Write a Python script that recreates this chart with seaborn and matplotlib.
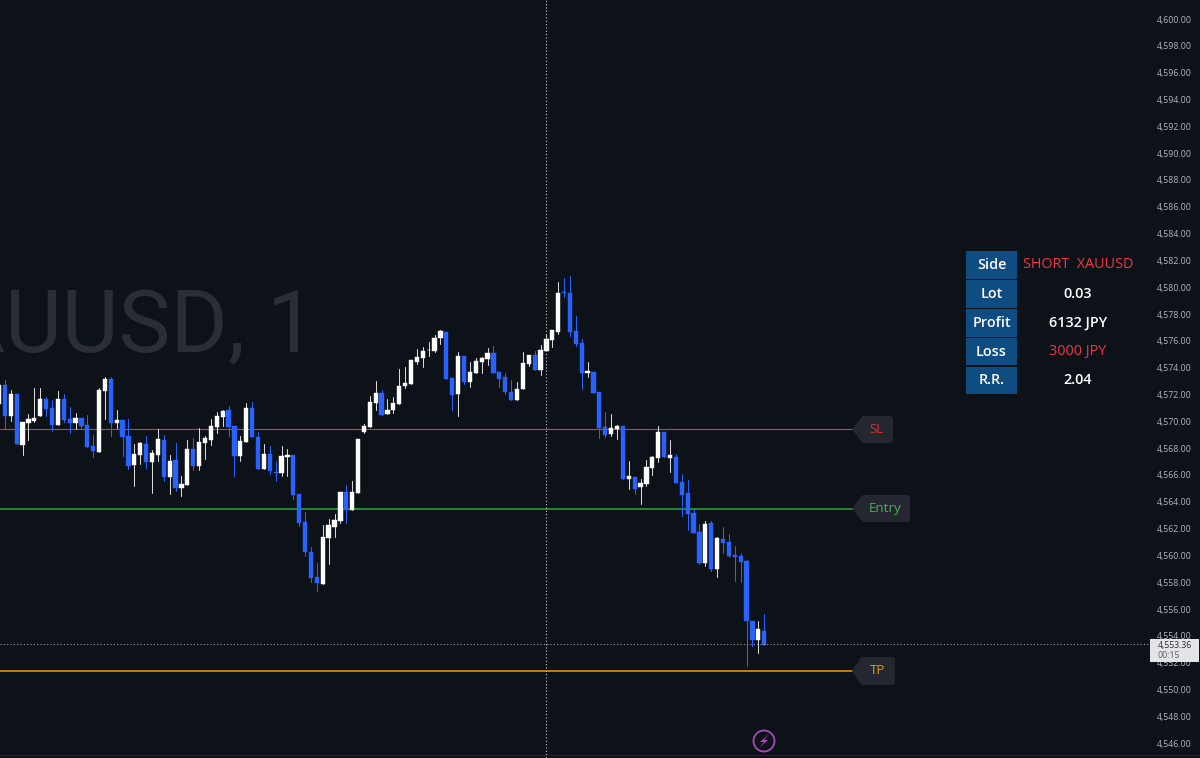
"""XAUUSD 1-minute chart with SL / Entry / TP levels and a trade panel."""

import pandas as pd
import matplotlib
matplotlib.use("Agg")
import matplotlib.pyplot as plt
import matplotlib.transforms as mtransforms
from matplotlib.patches import Circle, Polygon, Rectangle
import seaborn as sns

# ── Data ──────────────────────────────────────
OPEN = [
    4571.29, 4572.69, 4570.40, 4572.04, 4568.23, 4569.88, 4570.05, 4570.40, 4571.69, 4570.99,
    4569.72, 4571.69, 4570.20, 4569.85, 4570.25, 4569.72, 4568.18, 4567.71, 4572.26, 4573.13,
    4569.85, 4570.12, 4568.91, 4566.74, 4567.47, 4568.31, 4566.99, 4567.51, 4568.61, 4565.85,
    4567.10, 4565.05, 4565.25, 4567.93, 4566.67, 4568.39, 4568.63, 4569.60, 4570.32, 4570.84,
    4569.65, 4567.39, 4568.44, 4570.99, 4568.83, 4566.42, 4567.54, 4566.22, 4566.17, 4567.31,
    4567.47, 4564.60, 4562.47, 4560.25, 4558.37, 4557.89, 4561.30, 4562.12, 4562.57, 4564.73,
    4563.37, 4564.66, 4569.20, 4569.55, 4571.34, 4572.13, 4570.52, 4570.84, 4571.29, 4572.66,
    4572.78, 4574.42, 4574.74, 4575.30, 4575.24, 4576.21, 4576.66, 4573.21, 4572.02, 4574.87,
    4572.91, 4573.58, 4574.42, 4574.62, 4575.09, 4573.66, 4573.30, 4572.21, 4571.57, 4572.41,
    4574.27, 4574.94, 4573.83, 4575.24, 4576.06, 4576.66, 4579.64, 4579.57, 4576.71, 4575.84,
    4573.63, 4573.70, 4572.16, 4569.55, 4569.05, 4569.40, 4569.63, 4565.70, 4565.85, 4565.10,
    4565.32, 4566.54, 4567.26, 4569.20, 4567.26, 4567.34, 4565.47, 4564.66, 4563.16, 4561.75,
    4559.44, 4562.42, 4558.99, 4561.22, 4561.00, 4560.03, 4559.93, 4559.58, 4555.11, 4553.69,
    4554.36,
]
HIGH = [
    4573.01, 4573.08, 4572.34, 4572.04, 4569.95, 4570.55, 4572.49, 4572.49, 4571.84, 4571.59,
    4572.24, 4572.04, 4571.07, 4570.60, 4570.25, 4570.47, 4568.98, 4572.49, 4573.31, 4573.28,
    4570.84, 4570.12, 4570.17, 4568.31, 4568.46, 4568.91, 4567.86, 4569.43, 4568.98, 4567.49,
    4568.39, 4565.92, 4568.61, 4568.76, 4569.50, 4568.91, 4570.15, 4570.69, 4570.84, 4571.14,
    4569.65, 4568.91, 4571.37, 4571.44, 4569.20, 4568.31, 4568.16, 4567.04, 4568.18, 4567.93,
    4567.51, 4564.60, 4563.27, 4560.63, 4559.44, 4562.27, 4562.72, 4563.09, 4564.73, 4565.25,
    4565.57, 4568.68, 4569.80, 4571.89, 4573.01, 4572.34, 4571.64, 4571.84, 4573.90, 4574.05,
    4574.55, 4575.39, 4575.54, 4575.92, 4576.43, 4576.81, 4576.66, 4573.21, 4575.17, 4574.87,
    4574.42, 4574.72, 4574.79, 4575.47, 4575.62, 4573.66, 4573.58, 4573.08, 4572.93, 4575.17,
    4574.94, 4575.22, 4575.69, 4576.43, 4576.79, 4580.37, 4580.69, 4580.84, 4577.85, 4576.13,
    4574.42, 4573.70, 4572.16, 4570.69, 4570.55, 4569.72, 4569.63, 4567.04, 4565.85, 4565.70,
    4567.12, 4567.41, 4569.65, 4569.20, 4568.61, 4567.56, 4566.07, 4565.62, 4563.46, 4562.34,
    4562.57, 4562.57, 4561.37, 4562.12, 4561.60, 4560.70, 4560.18, 4559.66, 4555.11, 4555.11,
    4555.63,
]
LOW = [
    4571.29, 4569.40, 4570.05, 4568.31, 4567.51, 4568.61, 4569.93, 4570.40, 4570.40, 4569.28,
    4569.72, 4569.95, 4569.10, 4569.40, 4569.49, 4568.11, 4567.34, 4567.71, 4570.17, 4568.91,
    4569.50, 4567.43, 4566.44, 4565.18, 4566.82, 4566.52, 4564.66, 4567.07, 4565.57, 4564.58,
    4564.81, 4564.43, 4565.25, 4566.37, 4566.37, 4567.19, 4568.23, 4569.13, 4569.65, 4568.91,
    4565.92, 4567.04, 4568.44, 4568.81, 4566.44, 4566.42, 4566.09, 4565.55, 4565.92, 4565.92,
    4564.21, 4562.19, 4559.96, 4558.04, 4557.37, 4557.89, 4559.36, 4561.40, 4562.42, 4562.39,
    4563.37, 4564.66, 4569.10, 4569.55, 4570.84, 4570.45, 4570.52, 4570.60, 4571.29, 4572.49,
    4572.78, 4574.27, 4574.07, 4574.87, 4575.17, 4575.76, 4573.13, 4570.84, 4570.40, 4572.78,
    4572.58, 4573.58, 4573.63, 4574.20, 4573.58, 4572.58, 4572.04, 4571.57, 4571.57, 4572.41,
    4574.10, 4573.83, 4573.45, 4575.24, 4575.54, 4576.51, 4579.27, 4576.36, 4575.62, 4572.41,
    4573.30, 4572.09, 4568.76, 4568.85, 4568.91, 4568.68, 4565.70, 4564.97, 4564.58, 4563.83,
    4565.18, 4566.02, 4566.99, 4567.34, 4566.22, 4565.40, 4562.94, 4561.90, 4561.67, 4559.36,
    4559.21, 4558.84, 4558.39, 4560.18, 4559.86, 4558.09, 4558.02, 4551.76, 4553.25, 4552.71,
    4553.32,
]
CLOSE = [
    4572.71, 4570.40, 4572.04, 4568.31, 4569.95, 4570.15, 4570.27, 4571.69, 4570.92, 4569.72,
    4571.69, 4570.12, 4569.85, 4570.25, 4569.67, 4568.11, 4567.79, 4572.34, 4573.13, 4569.88,
    4570.12, 4568.83, 4566.67, 4567.54, 4568.39, 4566.99, 4567.66, 4568.66, 4565.85, 4567.02,
    4565.05, 4565.32, 4567.93, 4566.67, 4568.46, 4568.76, 4569.65, 4570.40, 4570.77, 4569.60,
    4567.41, 4568.53, 4570.99, 4568.81, 4566.44, 4567.56, 4566.30, 4566.17, 4567.41, 4567.49,
    4564.53, 4562.39, 4560.25, 4558.30, 4557.92, 4561.35, 4562.27, 4562.64, 4564.73, 4563.39,
    4564.73, 4568.68, 4569.65, 4571.44, 4572.13, 4570.45, 4570.84, 4571.34, 4572.66, 4572.86,
    4574.55, 4574.79, 4575.27, 4575.34, 4576.23, 4576.71, 4573.13, 4571.96, 4574.87, 4572.91,
    4573.68, 4574.50, 4574.72, 4575.07, 4573.58, 4573.18, 4572.19, 4571.57, 4572.41, 4574.35,
    4574.94, 4573.83, 4575.32, 4576.13, 4576.79, 4579.57, 4579.55, 4576.64, 4575.76, 4573.58,
    4573.75, 4572.09, 4569.50, 4569.00, 4569.50, 4569.65, 4565.70, 4565.92, 4564.97, 4565.40,
    4566.59, 4567.34, 4569.20, 4567.34, 4567.49, 4565.40, 4564.50, 4563.09, 4561.67, 4559.44,
    4562.34, 4558.99, 4561.30, 4560.93, 4559.93, 4559.88, 4559.51, 4555.11, 4553.69, 4554.51,
    4553.32,
]

Y_TICKS = [4600 - 2 * n for n in range(28)]
LEVEL_NAMES = ["SL", "Entry", "TP"]
LEVEL_PRICES = [4569.43, 4563.46, 4551.38]
LAST_PRICE = 4553.36
PANEL_KEYS = ["Side", "Lot", "Profit", "Loss", "R.R."]
PANEL_VALUES = ["SHORT  XAUUSD", "0.03", "6132 JPY", "3000 JPY", "2.04"]

# ── Colours ───────────────────────────────────
BG = "#0d1118"
UP = "#ffffff"
DOWN = "#2962ff"
LEVEL_LINE = {"SL": "#c4424e", "Entry": "#2b9a3e", "TP": "#e0900f"}
LEVEL_WIDTH = {"SL": 0.8, "Entry": 1.2, "TP": 1.2}
LEVEL_TEXT = {"SL": "#d12f40", "Entry": "#46b052", "TP": "#f0930f"}
TAG = "#24272f"
RED = "#f23645"
PANEL_BLUE = "#0f4c81"
FONT = ["Open Sans", "DejaVu Sans"]

# ── Frame ─────────────────────────────────────
W, H = 1200, 758
AXES_W = 1150
CANDLE_PX = 5.886

sns.set_theme(style="dark", rc={"axes.facecolor": BG, "figure.facecolor": BG})
plt.rcParams["font.family"] = FONT

fig = plt.figure(figsize=(W / 100, H / 100), dpi=100, facecolor=BG)
ax = fig.add_axes([0, 0, AXES_W / W, 1])
PX = mtransforms.Affine2D().scale(1 / W, -1 / H).translate(0, 1) + fig.transFigure

df = pd.DataFrame({"i": range(len(OPEN)), "open": OPEN, "high": HIGH, "low": LOW, "close": CLOSE})
df["dir"] = ["up" if c >= o else "down" for o, c in zip(df["open"], df["close"])]
df["bottom"] = df[["open", "close"]].min(axis=1)
df["body"] = (df["close"] - df["open"]).abs()
wicks = df.melt(id_vars=["i", "dir"], value_vars=["low", "high"], value_name="price")

x_left = 1 / CANDLE_PX
x_line_end = 854 / CANDLE_PX
x_cross = 547 / CANDLE_PX

# ── Levels (behind the candles) ───────────────
for name, price in zip(LEVEL_NAMES, LEVEL_PRICES):
    sns.lineplot(x=[x_left, x_line_end], y=[price, price], ax=ax, color=LEVEL_LINE[name],
                 linewidth=LEVEL_WIDTH[name], estimator=None, zorder=0.5)

# ── Candles ───────────────────────────────────
sns.lineplot(data=wicks, x="i", y="price", units="i", hue="dir", ax=ax,
             palette={"up": "#d8d8d8", "down": DOWN}, estimator=None, sort=False,
             legend=False, linewidth=0.75, zorder=1)
for side, color in [("up", UP), ("down", DOWN)]:
    sub = df[df["dir"] == side]
    sns.barplot(data=sub, x="i", y="body", ax=ax, native_scale=True, bottom=sub["bottom"].values,
                color=color, saturation=1, width=0.72, errorbar=None,
                edgecolor=color, linewidth=0.3, zorder=2)

# ── Crosshair and last price line ─────────────
ax.axvline(x_cross, color="#c8c8c8", linewidth=0.8, linestyle=(0, (1, 2)), zorder=3)
ax.axhline(LAST_PRICE, color="#9a9da5", linewidth=0.8, linestyle=(0, (1, 2)), zorder=3)

# ── Axes ──────────────────────────────────────
ax.set_xlim(x_left, (AXES_W + 1) / CANDLE_PX)
ax.set_ylim(4544.89, 4601.42)
ax.set_xlabel("")
ax.set_ylabel("")
ax.set_xticks([])
ax.grid(False)
ax.yaxis.tick_right()
ax.set_yticks(Y_TICKS)
ax.set_yticklabels([f"{t:,.2f}" for t in Y_TICKS])
ax.tick_params(axis="y", length=0, pad=30.2, labelsize=6.3, colors="#b2b5be")
for label in ax.get_yticklabels():
    label.set_horizontalalignment("right")
for spine in ax.spines.values():
    spine.set_visible(False)

# ── Watermark ─────────────────────────────────
ax.patch.set_alpha(0)
fig.text(316, 352, "XAUUSD, 1", transform=PX, ha="right", va="baseline",
         fontsize=63, color="#2a2d35", zorder=-1, family=["Roboto", "Open Sans"])

# ── Level tags ────────────────────────────────
tag_boxes = {"SL": (861, 893, 416, 443), "Entry": (861, 910, 495, 522), "TP": (860, 895, 657, 685)}
for name in LEVEL_NAMES:
    x0, x1, y0, y1 = tag_boxes[name]
    ym = (y0 + y1) / 2
    fig.add_artist(Polygon([(852, ym), (x0, y0 + 2), (x0 + 2, y0), (x1 - 2, y0), (x1, y0 + 2),
                            (x1, y1 - 2), (x1 - 2, y1), (x0 + 2, y1), (x0, y1 - 2)],
                           closed=True, transform=PX, facecolor=TAG, edgecolor="none", zorder=4))
    fig.text((x0 + x1) / 2, ym, name, transform=PX, ha="center", va="center",
             fontsize=9.6, fontweight="medium", color=LEVEL_TEXT[name], zorder=5)

# ── Trade panel ───────────────────────────────
rows = [(251, 279), (280, 308), (309, 337), (338, 365), (367, 394)]
for (y0, y1), key, value in zip(rows, PANEL_KEYS, PANEL_VALUES):
    fig.add_artist(Rectangle((966, y0), 51, y1 - y0, transform=PX, facecolor=PANEL_BLUE,
                             edgecolor="none", zorder=4))
    fig.text(991.5, (y0 + y1) / 2, key, transform=PX, ha="center", va="center",
             fontsize=10.4, fontweight="semibold", color="white", zorder=5)
    is_red = key in ("Side", "Loss")
    fig.text(1078, (y0 + y1) / 2, value, transform=PX, ha="center", va="center", fontsize=10.4,
             fontweight="normal" if is_red else "semibold", color=RED if is_red else "white", zorder=5)

# ── Last price tag ────────────────────────────
fig.add_artist(Rectangle((1150, 639), 49, 23, transform=PX, facecolor="#e3e4e6",
                         edgecolor="none", zorder=6))
fig.text(1192, 645.5, f"{LAST_PRICE:,.2f}", transform=PX, ha="right", va="center",
         fontsize=6.3, color="#2a2e39", zorder=7)
fig.text(1158, 656, "00:15", transform=PX, ha="left", va="center",
         fontsize=6.3, color="#5d606b", zorder=7)

# ── Bolt icon and bottom rule ─────────────────
fig.add_artist(Circle((764, 741), 10.5, transform=PX, facecolor="none", edgecolor="#a44db5",
                      linewidth=1.3, zorder=4))
fig.add_artist(Polygon([(769, 734), (760, 742), (764, 742), (759, 748), (768, 740), (764, 740)],
                       closed=True, transform=PX, facecolor="#a44db5", edgecolor="none", zorder=4))
fig.add_artist(Rectangle((0, 755), W, 1, transform=PX, facecolor="#22252c", edgecolor="none", zorder=4))

fig.savefig("out.png", dpi=100, facecolor=BG)
